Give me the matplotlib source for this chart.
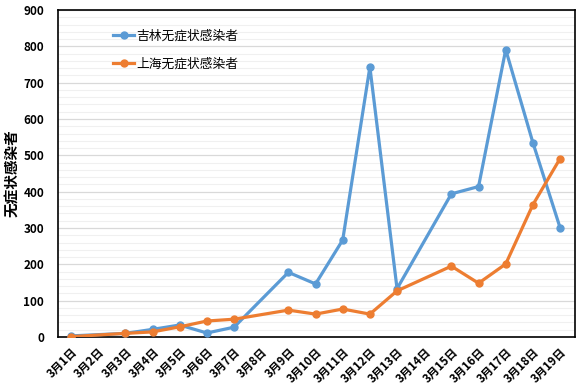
import matplotlib
matplotlib.use("Agg")
import matplotlib.pyplot as plt
from matplotlib.ticker import MultipleLocator

plt.rcParams['font.family'] = ['Noto Sans CJK SC', 'DejaVu Sans']

# x categories (3月1日 .. 3月19日)
day_labels = [f"3月{d}日" for d in range(1, 20)]
# days that have data
days = [1, 3, 4, 5, 6, 7, 9, 10, 11, 12, 13, 15, 16, 17, 18, 19]
jilin = [3, 10, 21, 33, 11, 27, 178, 146, 267, 743, 133, 394, 414, 791, 535, 301]
shanghai = [1, 10, 14, 28, 44, 49, 74, 63, 77, 63, 127, 195, 148, 201, 364, 491]

fig = plt.figure(figsize=(5.81, 3.89), dpi=100)
ax = fig.add_axes([58/581, 1 - 337/389, (575-58)/581, (337-10)/389])

x = [d - 1 for d in days]
ax.plot(x, jilin, color='#5B9BD5', lw=2.3, marker='o', ms=5, label='吉林无症状感染者', zorder=3)
ax.plot(x, shanghai, color='#ED7D31', lw=2.3, marker='o', ms=5, label='上海无症状感染者', zorder=4)

ax.set_xlim(-0.48, 18.55)
ax.set_ylim(0, 900)
ax.yaxis.set_major_locator(MultipleLocator(100))
ax.yaxis.set_minor_locator(MultipleLocator(20))
ax.grid(which='minor', axis='y', color='#f0f0f0', lw=0.8, zorder=0)
ax.grid(which='major', axis='y', color='#d9d9d9', lw=0.9, zorder=1)
ax.set_axisbelow(True)

ax.set_xticks(range(19))
ax.set_xticklabels(day_labels, rotation=45, ha='right', rotation_mode='anchor',
                   fontsize=8.3, fontweight='bold')
for lab in ax.get_yticklabels():
    lab.set_fontsize(8.5)
    lab.set_fontweight('bold')
ax.tick_params(axis='both', which='both', length=0)
ax.tick_params(axis='x', pad=6)
ax.tick_params(axis='y', pad=10)

for s in ax.spines.values():
    s.set_color('black')
    s.set_linewidth(1.2)

ax.set_ylabel('无症状感染者', fontsize=10.5, fontweight='bold')
ax.yaxis.set_label_coords(-0.074, 0.5)

ax.legend(loc='upper left', bbox_to_anchor=(0.085, 0.975), frameon=False,
          fontsize=9.2, handlelength=1.6, labelspacing=1.15, handletextpad=0.2)

fig.savefig('out.png', dpi=100)
